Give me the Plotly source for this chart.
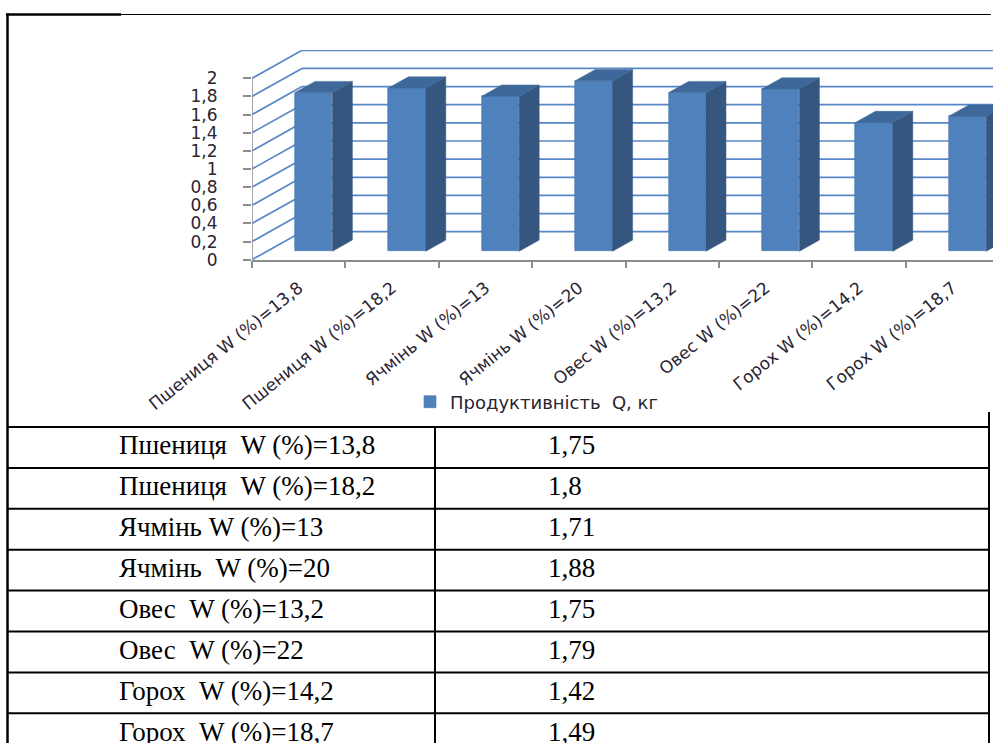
import plotly.graph_objects as go

# ---- data -------------------------------------------------------------
crops = ["Пшениця", "Пшениця", "Ячмінь", "Ячмінь", "Овес", "Овес", "Горох", "Горох"]
moisture = ["13,8", "18,2", "13", "20", "13,2", "22", "14,2", "18,7"]
productivity = [1.75, 1.8, 1.71, 1.88, 1.75, 1.79, 1.42, 1.49]
table_labels = [
    "Пшениця  W (%)=13,8",
    "Пшениця  W (%)=18,2",
    "Ячмінь W (%)=13",
    "Ячмінь  W (%)=20",
    "Овес  W (%)=13,2",
    "Овес  W (%)=22",
    "Горох  W (%)=14,2",
    "Горох  W (%)=18,7",
]
series_name = "Продуктивність  Q, кг"
y_ticks = [0, 0.2, 0.4, 0.6, 0.8, 1, 1.2, 1.4, 1.6, 1.8, 2]

# ---- page geometry ----------------------------------------------------
W, H = 993, 743
PX_PER_CAT = 93.4      # pixels per category on the front edge
PX_PER_UNIT = 90.7     # pixels per value unit
AX_LEFT, AX_BOTTOM, AX_TOP = 252, 259.7, 50

# 3D depth of the chart box, in axis units
DEPTH_X = 50 / PX_PER_CAT
DEPTH_Y = 28 / PX_PER_UNIT
BAR_W = 0.4            # bar width (category units)
BAR_FRONT = 0.3        # where the bar front sits within the depth
BAR_DEPTH = 0.4        # bar depth as a fraction of box depth

X_MIN = -0.5
X_MAX = X_MIN + (W - AX_LEFT) / PX_PER_CAT
Y_MAX = (AX_BOTTOM - AX_TOP) / PX_PER_UNIT

FRONT = "#4f81bd"
SIDE = "#35577f"
TOP = "#3e6899"
GRID = "#5787c6"
AXIS = "#8c8c8c"
TXT = "#2a2433"
CHART_FONT = "DejaVu Sans"
TABLE_FONT = "Liberation Serif"


def fmt(v):
    return f"{v:g}".replace(".", ",")


cat_labels = [f"{c} W (%)={m}" for c, m in zip(crops, moisture)]
n = len(productivity)

fig = go.Figure()

# shifted position of the bar fronts inside the box
off_x = DEPTH_X * BAR_FRONT
off_y = DEPTH_Y * BAR_FRONT
ddx = DEPTH_X * BAR_DEPTH
ddy = DEPTH_Y * BAR_DEPTH

# side and top faces of each bar
for i, v in enumerate(productivity):
    xl = i + off_x - BAR_W / 2
    xr = i + off_x + BAR_W / 2
    b, t = off_y, off_y + v
    fig.add_trace(go.Scatter(
        x=[xr, xr, xr + ddx, xr + ddx, xr],
        y=[b, t, t + ddy, b + ddy, b],
        fill="toself", fillcolor=SIDE, mode="lines",
        line=dict(color=SIDE, width=0.5),
        showlegend=False, hoverinfo="skip"))
    fig.add_trace(go.Scatter(
        x=[xl, xr, xr + ddx, xl + ddx, xl],
        y=[t, t, t + ddy, t + ddy, t],
        fill="toself", fillcolor=TOP, mode="lines",
        line=dict(color=TOP, width=0.5),
        showlegend=False, hoverinfo="skip"))

# front faces
fig.add_trace(go.Bar(
    x=[i + off_x for i in range(n)], y=productivity, base=off_y,
    width=BAR_W, name=series_name,
    marker=dict(color=FRONT, line=dict(color="#4776ae", width=0.6)),
    showlegend=True))

# carrier for the boundary tick marks of the category axis
fig.add_trace(go.Scatter(x=[None], y=[None], xaxis="x2", yaxis="y",
                         showlegend=False, hoverinfo="skip"))

shapes = []
# gridlines on the side wall and back wall
for v in y_ticks:
    shapes.append(dict(type="line", xref="x", yref="y", layer="below",
                       x0=X_MIN, y0=v, x1=X_MIN + DEPTH_X, y1=v + DEPTH_Y,
                       line=dict(color=GRID, width=1.7)))
    shapes.append(dict(type="line", xref="x", yref="y", layer="below",
                       x0=X_MIN + DEPTH_X, y0=v + DEPTH_Y, x1=X_MAX, y1=v + DEPTH_Y,
                       line=dict(color=GRID, width=1.7)))
# value axis line
shapes.append(dict(type="line", xref="x", yref="y", layer="above",
                   x0=X_MIN, y0=0, x1=X_MIN, y1=y_ticks[-1],
                   line=dict(color=AXIS, width=1.5)))


def px(x):
    return x / W


def py(y):
    return 1 - y / H


# outer frame
shapes.append(dict(type="line", xref="paper", yref="paper",
                   x0=px(7), y0=py(14.5), x1=px(991), y1=py(14.5),
                   line=dict(color="black", width=1)))
shapes.append(dict(type="line", xref="paper", yref="paper",
                   x0=px(6), y0=py(14.5), x1=px(121), y1=py(14.5),
                   line=dict(color="black", width=2.5)))
shapes.append(dict(type="line", xref="paper", yref="paper",
                   x0=px(7.5), y0=py(13.5), x1=px(7.5), y1=py(H + 2),
                   line=dict(color="black", width=2.5)))
shapes.append(dict(type="line", xref="paper", yref="paper",
                   x0=px(989), y0=py(412), x1=px(989), y1=py(H + 2),
                   line=dict(color="black", width=2)))

# table grid
ROW_TOP, ROW_H, COL_X, TXT_L, TXT_R = 427, 40.9, 435, 117, 546
for k in range(n):
    y = ROW_TOP + ROW_H * k
    shapes.append(dict(type="line", xref="paper", yref="paper",
                       x0=px(7), y0=py(y), x1=px(990), y1=py(y),
                       line=dict(color="black", width=2)))
shapes.append(dict(type="line", xref="paper", yref="paper",
                   x0=px(COL_X), y0=py(ROW_TOP), x1=px(COL_X), y1=py(H + 2),
                   line=dict(color="black", width=2)))

annotations = []
for k, (lab, v) in enumerate(zip(table_labels, productivity)):
    yc = ROW_TOP + ROW_H * k + ROW_H / 2 - 2
    annotations.append(dict(xref="paper", yref="paper", x=px(TXT_L), y=py(yc),
                            xanchor="left", yanchor="middle", showarrow=False,
                            text=lab, font=dict(family=TABLE_FONT, size=27, color="black")))
    annotations.append(dict(xref="paper", yref="paper", x=px(TXT_R), y=py(yc),
                            xanchor="left", yanchor="middle", showarrow=False,
                            text=fmt(v), font=dict(family=TABLE_FONT, size=27, color="black")))

x_dom = [AX_LEFT / W, 1]
y_dom = [1 - AX_BOTTOM / H, 1 - AX_TOP / H]

fig.update_layout(
    width=W, height=H,
    margin=dict(l=0, r=0, t=0, b=0, pad=0, autoexpand=False),
    paper_bgcolor="white", plot_bgcolor="rgba(0,0,0,0)",
    bargap=0,
    font=dict(family=CHART_FONT, color=TXT),
    xaxis=dict(domain=x_dom, range=[X_MIN, X_MAX], anchor="y", automargin=False,
               tickvals=list(range(n)), ticktext=cat_labels, tickangle=-39,
               ticks="", ticklabelstandoff=10,
               tickfont=dict(family=CHART_FONT, size=17, color=TXT),
               showgrid=False, zeroline=False,
               showline=True, linecolor=AXIS, linewidth=1.5),
    xaxis2=dict(domain=x_dom, range=[X_MIN, X_MAX], anchor="y", overlaying="x",
                side="bottom", automargin=False,
                tickvals=[i - 0.5 for i in range(n + 1)],
                ticks="outside", ticklen=7, tickcolor=AXIS, tickwidth=1.5,
                showticklabels=False, showgrid=False, zeroline=False, showline=False),
    yaxis=dict(domain=y_dom, range=[0, Y_MAX], anchor="x", automargin=False,
               tickvals=y_ticks, ticktext=[fmt(v) for v in y_ticks],
               ticks="outside", ticklen=8, tickcolor=AXIS, tickwidth=1.5,
               ticklabelstandoff=22,
               tickfont=dict(family=CHART_FONT, size=17, color=TXT),
               showgrid=False, zeroline=False, showline=False),
    legend=dict(x=px(410), y=py(402), xanchor="left", yanchor="middle",
                bgcolor="rgba(0,0,0,0)", borderwidth=0,
                font=dict(family=CHART_FONT, size=18, color=TXT)),
    showlegend=True,
    shapes=shapes,
    annotations=annotations,
)

fig.write_html("out.html")
